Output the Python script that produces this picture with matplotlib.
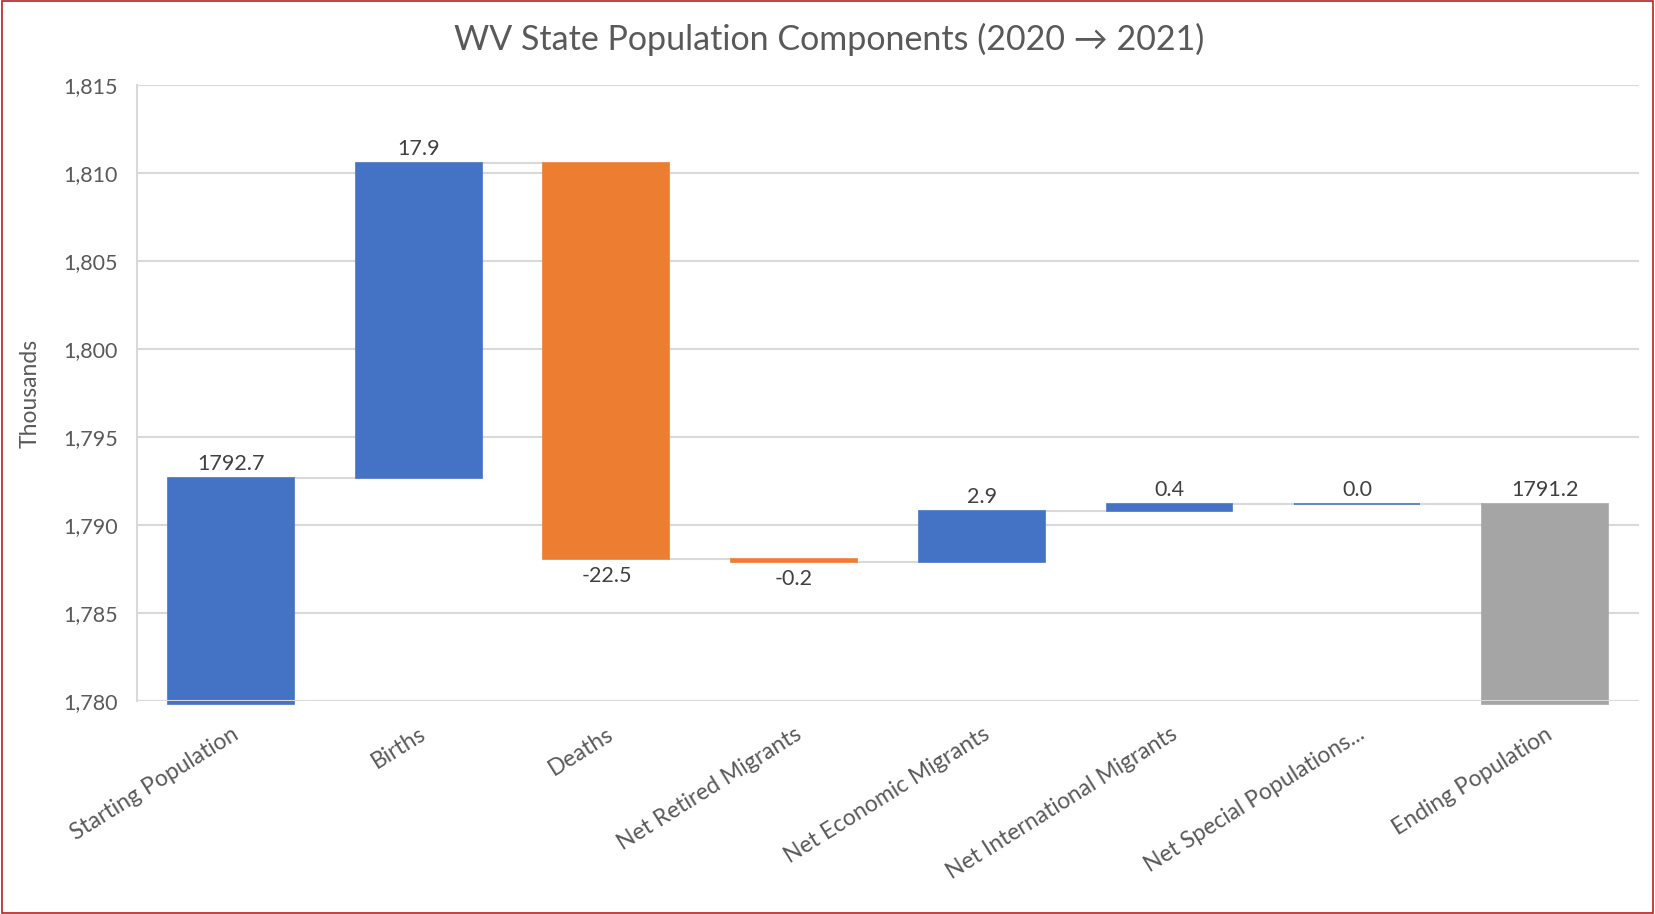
import matplotlib
matplotlib.use('Agg')
import matplotlib.pyplot as plt
from matplotlib.patches import Rectangle
from matplotlib.ticker import FuncFormatter

plt.rcParams['font.family'] = ['Lato', 'DejaVu Sans']

# data (thousands)
categories = ['Starting Population', 'Births', 'Deaths', 'Net Retired Migrants',
              'Net Economic Migrants', 'Net International Migrants',
              'Net Special Populations...', 'Ending Population']
start_pop = 1792.7
changes = [17.9, -22.5, -0.2, 2.9, 0.4, 0.0]
end_pop = 1791.2
labels = ['1792.7', '17.9', '-22.5', '-0.2', '2.9', '0.4', '0.0', '1791.2']

blue = '#4472C4'
orange = '#ED7D31'
gray = '#A5A5A5'
text_col = '#595959'
grid_col = '#D9D9D9'

ymin, ymax = 1780, 1815

fig = plt.figure(figsize=(16.55, 9.14), dpi=100)
ax = fig.add_axes([0.0828, 0.233, 0.9075, 0.6735])

# build bar bottoms / heights
bottoms = []
heights = []
colors = []
bottoms.append(ymin - 0.15)
heights.append(start_pop - (ymin - 0.15))
colors.append(blue)
level = start_pop
for c in changes:
    if c >= 0:
        bottoms.append(level)
        heights.append(c)
        colors.append(blue)
    else:
        bottoms.append(level + c)
        heights.append(-c)
        colors.append(orange)
    level = level + c
bottoms.append(ymin - 0.15)
heights.append(end_pop - (ymin - 0.15))
colors.append(gray)

x = list(range(len(categories)))
width = 0.67
ax.bar(x, heights, bottom=bottoms, width=width, color=colors, edgecolor=colors,
       linewidth=1.2, zorder=3, clip_on=False)

# connector lines
level = start_pop
ends = [start_pop]
for c in changes:
    level = level + c
    ends.append(level)
for i in range(len(ends)):
    ax.plot([i + width / 2, i + 1 - width / 2], [ends[i], ends[i]],
            color=grid_col, linewidth=1.5, zorder=2)

# data labels
for i in range(len(categories)):
    if i == 0 or i == len(categories) - 1 or changes[i - 1] >= 0:
        y = bottoms[i] + heights[i]
        ax.annotate(labels[i], (i, y), xytext=(0, 3), textcoords='offset points',
                    ha='center', va='bottom', fontsize=15.5, color='#404040')
    else:
        y = bottoms[i]
        ax.annotate(labels[i], (i, y), xytext=(0, -5), textcoords='offset points',
                    ha='center', va='top', fontsize=15.5, color='#404040')

ax.set_xlim(-0.5, len(categories) - 0.5)
ax.set_ylim(ymin, ymax)
ax.set_yticks(range(ymin, ymax + 1, 5))
ax.yaxis.set_major_formatter(FuncFormatter(lambda v, p: '{:,.0f}'.format(v)))
ax.grid(axis='y', color=grid_col, linewidth=1.5, zorder=0)
ax.axhline(ymin, color=grid_col, linewidth=1.5, zorder=4)
ax.set_axisbelow(True)
for s in ['top', 'right', 'bottom']:
    ax.spines[s].set_visible(False)
ax.spines['left'].set_color(grid_col)
ax.spines['left'].set_linewidth(1.5)

ax.set_xticks(x)
ax.set_xticklabels(categories, rotation=32, ha='right', rotation_mode='anchor',
                   fontsize=16.5, color=text_col)
ax.tick_params(axis='x', length=0, pad=16)
ax.tick_params(axis='y', length=0, pad=14, labelsize=15.5, labelcolor=text_col)

ax.set_ylabel('Thousands', fontsize=16.5, color=text_col)
ax.yaxis.set_label_coords(-0.064, 0.5)

fig.text(0.501, 0.957, 'WV State Population Components (2020 \u2192 2021)',
         ha='center', va='center', fontsize=24.5, color=text_col)

# outer border
fig.patches.append(Rectangle((0.001, 0.001), 0.998, 0.998, transform=fig.transFigure,
                             fill=False, edgecolor='#B22222', linewidth=1.2))

fig.savefig('out.png', dpi=100)
